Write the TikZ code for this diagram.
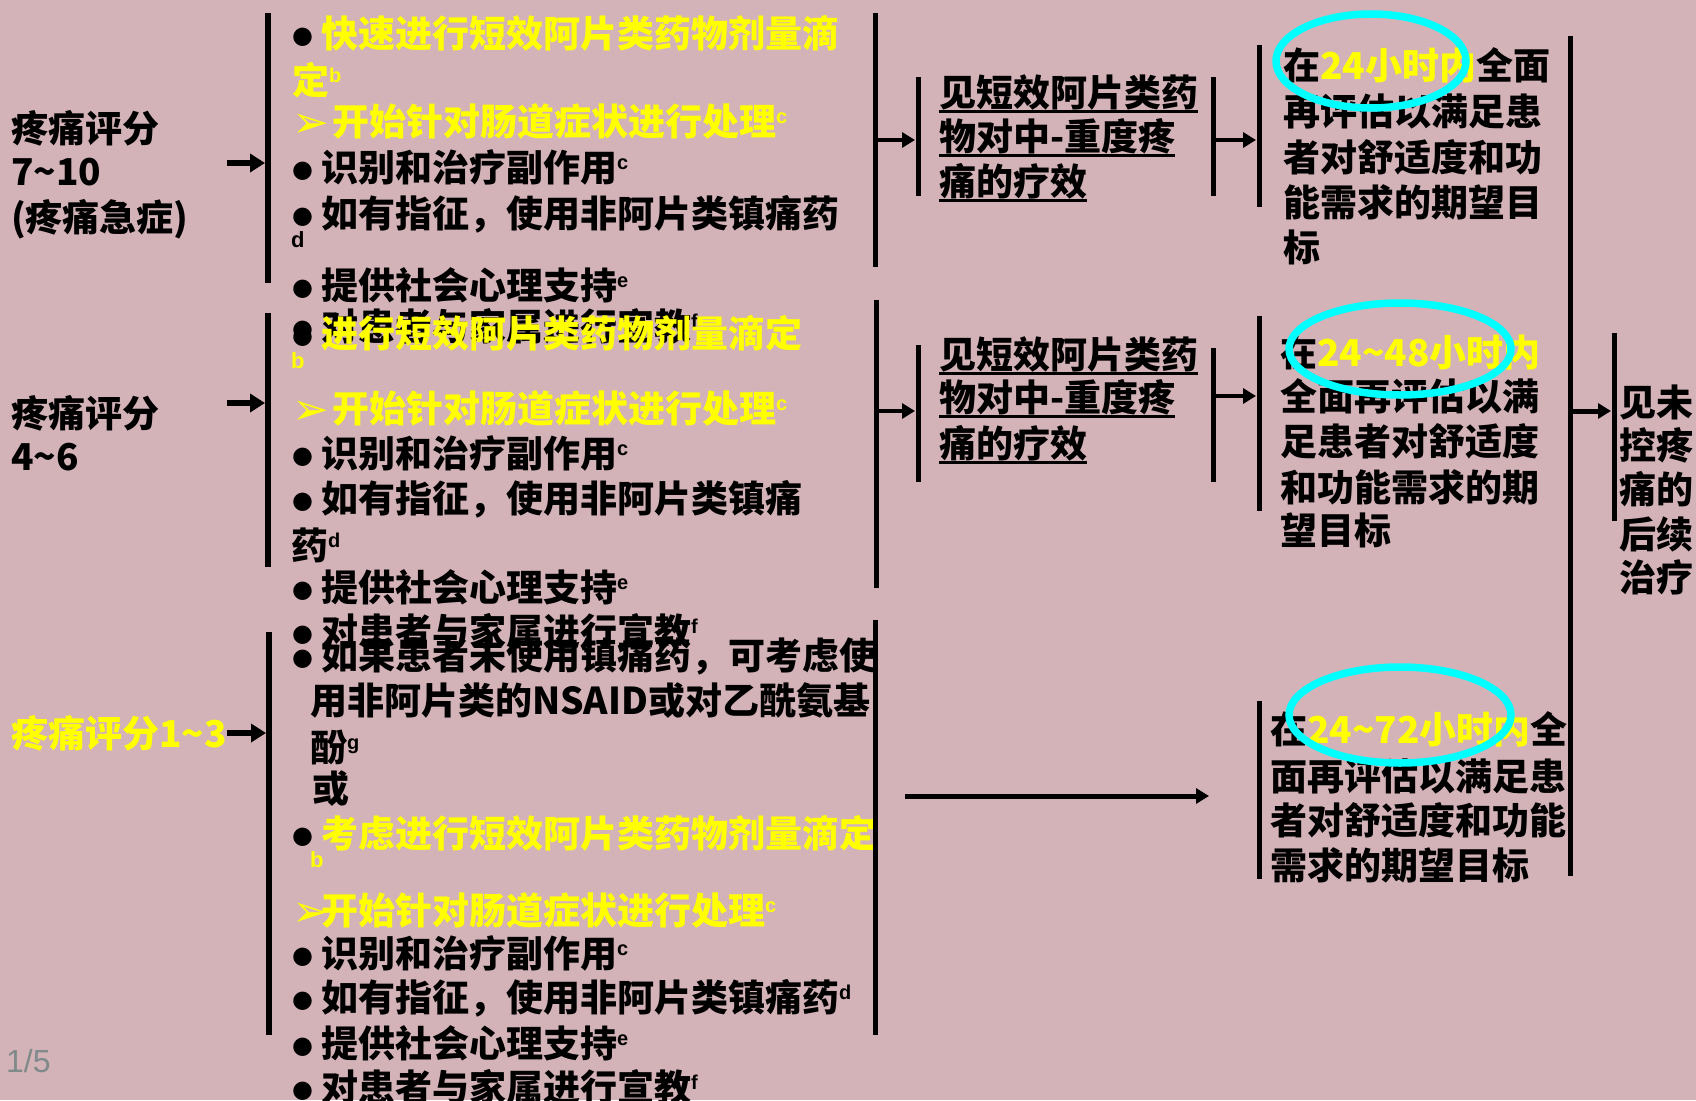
\documentclass[tikz,border=0pt]{standalone}
\usepackage{fontspec}
\usetikzlibrary{arrows.meta}
\newfontfamily\cjk{Noto Sans CJK SC}
\newfontfamily\dv{DejaVu Sans}
\newfontfamily\ls{Liberation Sans}
\definecolor{bg}{RGB}{211,179,183}
\definecolor{pgc}{RGB}{128,138,138}
\definecolor{yl}{RGB}{255,255,0}
\definecolor{cy}{RGB}{0,255,255}
\newsavebox\ulbox
\newcommand\uln[1]{\sbox\ulbox{#1}\rlap{\rule[-7pt]{\wd\ulbox}{3pt}}\usebox\ulbox}
\newcommand\bul{\makebox[29pt][l]{\textcolor{black}{\dv\fontsize{24}{24}\selectfont\raisebox{4pt}{●}}}}
\newcommand\arw[1]{\makebox[#1][l]{\dv\fontsize{44}{44}\selectfont\raisebox{-2pt}{➢}}}
\newcommand\sps[1]{\raisebox{12pt}{\ls\bfseries\fontsize{20}{20}\selectfont #1}}
\tikzset{
  t/.style={anchor=base west, inner sep=0pt, outer sep=0pt, text=black,
            font=\cjk\bfseries\fontsize{37}{37}\selectfont},
  ty/.style={t, text=yl},
  lt/.style={t, font=\ls\bfseries\fontsize{22}{22}\selectfont},
  bar/.style={line width=5pt},
  bigarr/.style={line width=6pt, -{Triangle[length=15pt,width=18pt]}},
  midarr/.style={line width=3.5pt, -{Triangle[length=13pt,width=15pt]}},
  ring/.style={draw=cy, line width=7.5pt},
}
\begin{document}
\begin{tikzpicture}[x=1pt,y=-1pt]
\fill[bg] (0,0) rectangle (1696,1100);
\useasboundingbox (0,0) rectangle (1696,1100);

% ---- left labels
\node[t] (l1a) at (11,142) {疼痛评分};
\node[t] (l1b) at (11,185) {7\textasciitilde 10};
\node[t] (l1c) at (11,231) {(疼痛急症)};
\node[t] (l2a) at (11,427) {疼痛评分};
\node[t] (l2b) at (11,470) {4\textasciitilde 6};
\node[ty] (l3a) at (11,747) {疼痛评分1\textasciitilde 3};

% ---- block 1
\node[t] (a1) at (292,47) {\bul\textcolor{yl}{快速进行短效阿片类药物剂量滴}};
\node[ty] (a2) at (292,94) {定\sps{b}};
\node[ty] (a3) at (292,135) {\arw{40pt}开始针对肠道症状进行处理\sps{c}};
\node[t] (a4) at (292,181) {\bul 识别和治疗副作用\sps{c}};
\node[t] (a5) at (292,227) {\bul 如有指征，使用非阿片类镇痛药};
\node[lt] (a6) at (291,247) {d};
\node[t] (a7) at (292,299) {\bul 提供社会心理支持\sps{e}};
\node[t] (a8) at (292,340) {\bul 对患者与家属进行宣教\sps{f}};

% ---- block 2
\node[t] (b1) at (292,347) {\bul\textcolor{yl}{进行短效阿片类药物剂量滴定}};
\node[lt, text=yl] (b2) at (291,368) {b};
\node[ty] (b3) at (292,422) {\arw{40pt}开始针对肠道症状进行处理\sps{c}};
\node[t] (b4) at (292,467) {\bul 识别和治疗副作用\sps{c}};
\node[t] (b5) at (292,512) {\bul 如有指征，使用非阿片类镇痛};
\node[t] (b6) at (291,559) {药\sps{d}};
\node[t] (b7) at (292,601) {\bul 提供社会心理支持\sps{e}};
\node[t] (b8) at (292,645) {\bul 对患者与家属进行宣教\sps{f}};

% ---- block 3
\node[t] (c1) at (292,669) {\bul 如果患者未使用镇痛药，可考虑使};
\node[t] (c2) at (310,714) {用非阿片类的NSAID或对乙酰氨基};
\node[t] (c3) at (310,761) {酚\sps{g}};
\node[t] (c4) at (312,802) {或};
\node[t] (c5) at (292,847) {\bul\textcolor{yl}{考虑进行短效阿片类药物剂量滴定}};
\node[lt, text=yl] (c6) at (310,867) {b};
\node[ty] (c7) at (292,924) {\arw{29pt}开始针对肠道症状进行处理\sps{c}};
\node[t] (c8) at (292,967) {\bul 识别和治疗副作用\sps{c}};
\node[t] (c9) at (292,1011) {\bul 如有指征，使用非阿片类镇痛药\sps{d}};
\node[t] (c10) at (292,1057) {\bul 提供社会心理支持\sps{e}};
\node[t] (c11) at (292,1101) {\bul 对患者与家属进行宣教\sps{f}};

% ---- column 2
\node[t] (m1a) at (939,106) {\uln{见短效阿片类药}};
\node[t] (m1b) at (939,150) {\uln{物对中-重度疼}};
\node[t] (m1c) at (939,195) {\uln{痛的疗效}};
\node[t] (m2a) at (939,368) {\uln{见短效阿片类药}};
\node[t] (m2b) at (939,411) {\uln{物对中-重度疼}};
\node[t] (m2c) at (939,457) {\uln{痛的疗效}};

% ---- column 3
\node[t] (r1a) at (1283,79) {在\textcolor{yl}{24小时内}全面};
\node[t] (r1b) at (1283,125) {再评估以满足患};
\node[t] (r1c) at (1283,171) {者对舒适度和功};
\node[t] (r1d) at (1283,216) {能需求的期望目};
\node[t] (r1e) at (1283,261) {标};
\node[t] (r2a) at (1280,366) {在\textcolor{yl}{24\textasciitilde 48小时内}};
\node[t] (r2b) at (1280,410) {全面再评估以满};
\node[t] (r2c) at (1280,455) {足患者对舒适度};
\node[t] (r2d) at (1280,501) {和功能需求的期};
\node[t] (r2e) at (1280,544) {望目标};
\node[t] (r3a) at (1270,743) {在\textcolor{yl}{24\textasciitilde 72小时内}全};
\node[t] (r3b) at (1270,790) {面再评估以满足患};
\node[t] (r3c) at (1270,834) {者对舒适度和功能};
\node[t] (r3d) at (1270,879) {需求的期望目标};

% ---- column 4
\node[t] (f1) at (1619,416) {见未};
\node[t] (f2) at (1619,459) {控疼};
\node[t] (f3) at (1619,503) {痛的};
\node[t] (f4) at (1619,548) {后续};
\node[t] (f5) at (1619,591) {治疗};

\node[anchor=base west, inner sep=0pt, text=pgc, font=\ls\fontsize{32}{32}\selectfont] (pg) at (6,1072) {1/5};

% ---- bars
\draw[bar, line width=6pt] (268,13) -- (268,283);
\draw[bar, line width=6pt] (268,313) -- (268,567);
\draw[bar, line width=6pt] (269,632) -- (269,1035);
\draw[bar] (875,13) -- (875,267);
\draw[bar] (876,300) -- (876,588);
\draw[bar] (875,620) -- (875,1035);
\draw[bar] (918,77) -- (918,196);
\draw[bar] (1213,77) -- (1213,196);
\draw[bar] (1259,45) -- (1259,207);
\draw[bar] (918,345) -- (918,482);
\draw[bar] (1213,348) -- (1213,482);
\draw[bar] (1259,316) -- (1259,511);
\draw[bar] (1259,701) -- (1259,879);
\draw[bar] (1570,36) -- (1570,876);
\draw[bar] (1614,333) -- (1614,521);

% ---- arrows
\coordinate (s1) at (227,163); \coordinate (e1) at (265,163);
\coordinate (s2) at (227,403); \coordinate (e2) at (265,403);
\coordinate (s3) at (227,733); \coordinate (e3) at (266,733);
\draw[bigarr] (s1) -- (e1);
\draw[bigarr] (s2) -- (e2);
\draw[bigarr] (s3) -- (e3);
\coordinate (s4) at (878,140); \coordinate (e4) at (915,140);
\coordinate (s5) at (1216,140); \coordinate (e5) at (1256,140);
\coordinate (s6) at (878,411); \coordinate (e6) at (915,411);
\coordinate (s7) at (1216,396); \coordinate (e7) at (1256,396);
\coordinate (s8) at (905,796); \coordinate (e8) at (1209,796);
\coordinate (s9) at (1573,411); \coordinate (e9) at (1611,411);
\draw[midarr] (s4) -- (e4);
\draw[midarr, line width=4.5pt] (s5) -- (e5);
\draw[midarr, line width=4.5pt] (s6) -- (e6);
\draw[midarr, line width=4.5pt] (s7) -- (e7);
\draw[midarr, line width=5pt] (s8) -- (e8);
\draw[midarr, line width=5pt] (s9) -- (e9);

% ---- cyan rings
\draw[ring] (1371,61) ellipse [x radius=95, y radius=47];
\draw[ring] (1400,349) ellipse [x radius=111, y radius=46];
\draw[ring] (1400,715) ellipse [x radius=111, y radius=48];
\end{tikzpicture}
\end{document}
